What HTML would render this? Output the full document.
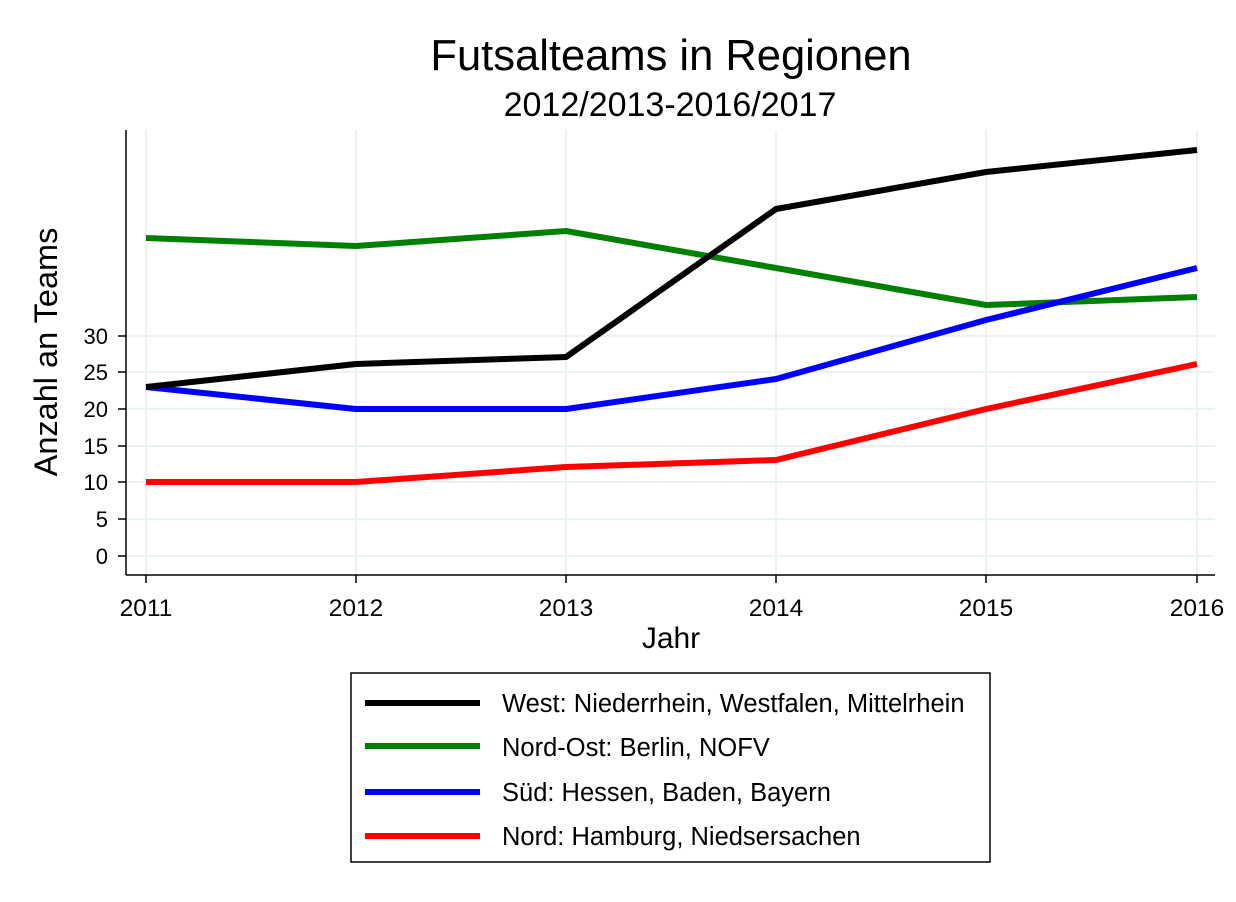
<!DOCTYPE html>
<html><head><meta charset="utf-8"><style>body{margin:0;background:#fff}</style></head><body>
<svg width="1236" height="897" xmlns="http://www.w3.org/2000/svg" font-family="Liberation Sans, Arial, sans-serif">
<rect width="1236" height="897" fill="#fff"/>
<text x="671" y="70" font-size="43.5" text-anchor="middle">Futsalteams in Regionen</text>
<text x="670" y="116" font-size="34" text-anchor="middle">2012/2013-2016/2017</text>
<g stroke="#eaf2f3" stroke-width="2">
<line x1="127" x2="1215" y1="556" y2="556"/><line x1="127" x2="1215" y1="519" y2="519"/><line x1="127" x2="1215" y1="482" y2="482"/><line x1="127" x2="1215" y1="446" y2="446"/><line x1="127" x2="1215" y1="409" y2="409"/><line x1="127" x2="1215" y1="372" y2="372"/><line x1="127" x2="1215" y1="336" y2="336"/>
<line x1="146" x2="146" y1="130" y2="575"/><line x1="356" x2="356" y1="130" y2="575"/><line x1="566" x2="566" y1="130" y2="575"/><line x1="776" x2="776" y1="130" y2="575"/><line x1="986" x2="986" y1="130" y2="575"/><line x1="1197" x2="1197" y1="130" y2="575"/>
</g>
<g stroke="#000" stroke-width="1.5">
<line x1="126" y1="130" x2="126" y2="575"/><line x1="126" y1="575" x2="1215" y2="575"/>
<line x1="118" x2="126" y1="556" y2="556"/><line x1="118" x2="126" y1="519" y2="519"/><line x1="118" x2="126" y1="482" y2="482"/><line x1="118" x2="126" y1="446" y2="446"/><line x1="118" x2="126" y1="409" y2="409"/><line x1="118" x2="126" y1="372" y2="372"/><line x1="118" x2="126" y1="336" y2="336"/>
<line x1="146" x2="146" y1="575" y2="583"/><line x1="356" x2="356" y1="575" y2="583"/><line x1="566" x2="566" y1="575" y2="583"/><line x1="776" x2="776" y1="575" y2="583"/><line x1="986" x2="986" y1="575" y2="583"/><line x1="1197" x2="1197" y1="575" y2="583"/>
</g>
<g font-size="22" text-anchor="end">
<text x="108" y="564">0</text><text x="108" y="527">5</text><text x="108" y="490">10</text><text x="108" y="454">15</text><text x="108" y="417">20</text><text x="108" y="380">25</text><text x="108" y="344">30</text>
</g>
<g font-size="24.5" text-anchor="middle">
<text x="146" y="616">2011</text><text x="356" y="616">2012</text><text x="566" y="616">2013</text><text x="776" y="616">2014</text><text x="986" y="616">2015</text><text x="1197" y="616">2016</text>
</g>
<text x="671" y="648" font-size="30" text-anchor="middle">Jahr</text>
<text transform="translate(57,352) rotate(-90)" font-size="32.5" text-anchor="middle">Anzahl an Teams</text>
<g fill="none" stroke-width="6" stroke-linejoin="round">
<polyline stroke="#008000" points="146,238 356,246 566,231 776,268 986,305 1197,297"/>
<polyline stroke="#0000ff" points="146,387 356,409 566,409 776,379 986,320 1197,268"/>
<polyline stroke="#ff0000" points="146,482 356,482 566,467 776,460 986,409 1197,364"/>
<polyline stroke="#000" points="146,387 356,364 566,357 776,209 986,172 1197,150"/>
</g>
<rect x="351" y="673" width="639" height="189" fill="none" stroke="#000" stroke-width="1.5"/>
<g stroke-width="6">
<line x1="365" x2="480" y1="703" y2="703" stroke="#000"/>
<line x1="365" x2="480" y1="746" y2="746" stroke="#008000"/>
<line x1="365" x2="480" y1="792" y2="792" stroke="#0000ff"/>
<line x1="365" x2="480" y1="836" y2="836" stroke="#ff0000"/>
</g>
<g font-size="25.5">
<text x="502" y="712">West: Niederrhein, Westfalen, Mittelrhein</text>
<text x="502" y="756">Nord-Ost: Berlin, NOFV</text>
<text x="502" y="801">Süd: Hessen, Baden, Bayern</text>
<text x="502" y="845">Nord: Hamburg, Niedsersachen</text>
</g>
</svg>
</body></html>
